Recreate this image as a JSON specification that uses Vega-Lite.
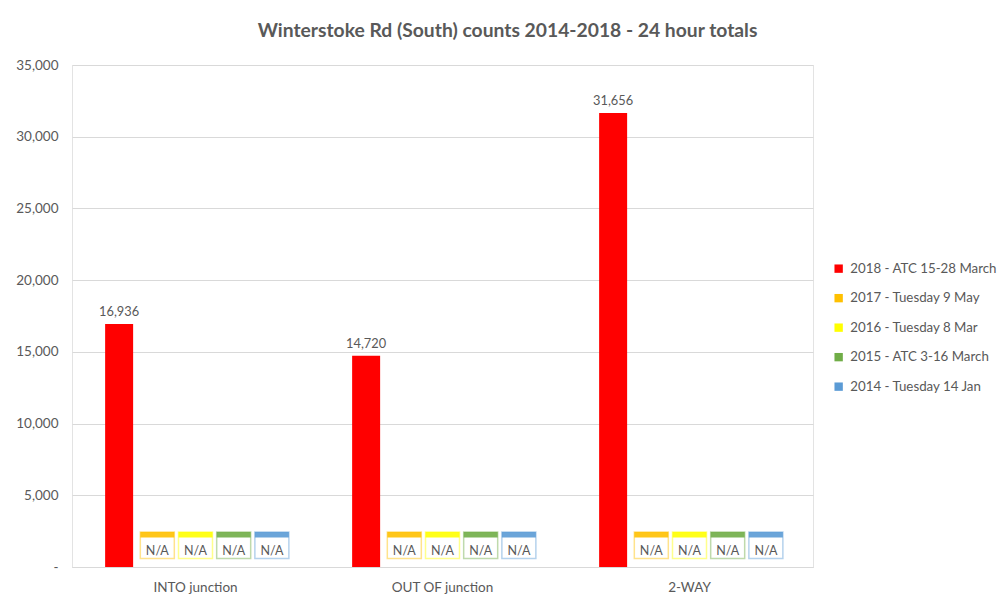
{
  "$schema": "https://vega.github.io/schema/vega-lite/v6.json",
  "width": 741,
  "height": 502,
  "autosize": {"type": "none"},
  "padding": {"left": 72, "top": 65, "right": 191, "bottom": 41},
  "background": "white",
  "title": {
    "text": "Winterstoke Rd (South) counts 2014-2018 - 24 hour totals",
    "font": "Lato",
    "fontSize": 19.3,
    "fontWeight": "bold",
    "color": "#595959",
    "anchor": "middle",
    "dx": 65,
    "offset": 17
  },
  "config": {
    "font": "Lato",
    "view": {"stroke": "#e3e3e3"},
    "axis": {"labelFont": "Lato", "labelColor": "#595959", "labelFontSize": 13.5}
  },
  "data": {
    "values": [
      {"junction": "INTO junction", "series": "2018 - ATC 15-28 March", "count": 16936},
      {"junction": "INTO junction", "series": "2017 - Tuesday 9 May", "count": null},
      {"junction": "INTO junction", "series": "2016 - Tuesday 8 Mar", "count": null},
      {"junction": "INTO junction", "series": "2015 - ATC 3-16 March", "count": null},
      {"junction": "INTO junction", "series": "2014 - Tuesday 14 Jan", "count": null},
      {"junction": "OUT OF junction", "series": "2018 - ATC 15-28 March", "count": 14720},
      {"junction": "OUT OF junction", "series": "2017 - Tuesday 9 May", "count": null},
      {"junction": "OUT OF junction", "series": "2016 - Tuesday 8 Mar", "count": null},
      {"junction": "OUT OF junction", "series": "2015 - ATC 3-16 March", "count": null},
      {"junction": "OUT OF junction", "series": "2014 - Tuesday 14 Jan", "count": null},
      {"junction": "2-WAY", "series": "2018 - ATC 15-28 March", "count": 31656},
      {"junction": "2-WAY", "series": "2017 - Tuesday 9 May", "count": null},
      {"junction": "2-WAY", "series": "2016 - Tuesday 8 Mar", "count": null},
      {"junction": "2-WAY", "series": "2015 - ATC 3-16 March", "count": null},
      {"junction": "2-WAY", "series": "2014 - Tuesday 14 Jan", "count": null}
    ]
  },
  "encoding": {
    "x": {
      "field": "junction",
      "type": "nominal",
      "sort": ["INTO junction", "OUT OF junction", "2-WAY"],
      "scale": {"paddingInner": 0.227, "paddingOuter": 0.1135},
      "axis": {"title": null, "labelAngle": 0, "ticks": false, "domainColor": "#d9d9d9", "labelPadding": 13}
    },
    "xOffset": {
      "field": "series",
      "type": "nominal",
      "sort": ["2018 - ATC 15-28 March", "2017 - Tuesday 9 May", "2016 - Tuesday 8 Mar", "2015 - ATC 3-16 March", "2014 - Tuesday 14 Jan"],
      "scale": {"paddingInner": 0, "paddingOuter": 0}
    }
  },
  "layer": [
    {
      "transform": [{"filter": "isValid(datum.count)"}],
      "mark": {"type": "bar", "width": 28},
      "encoding": {
        "y": {
          "field": "count",
          "type": "quantitative",
          "scale": {"domain": [0, 35000]},
          "axis": {
            "title": null,
            "values": [0, 5000, 10000, 15000, 20000, 25000, 30000, 35000],
            "labelExpr": "datum.value == 0 ? '-' : format(datum.value, ',')",
            "gridColor": "#d9d9d9",
            "domain": false,
            "ticks": false,
            "labelPadding": 14
          }
        },
        "color": {
          "field": "series",
          "type": "nominal",
          "scale": {
            "domain": ["2018 - ATC 15-28 March", "2017 - Tuesday 9 May", "2016 - Tuesday 8 Mar", "2015 - ATC 3-16 March", "2014 - Tuesday 14 Jan"],
            "range": ["#ff0000", "#ffc000", "#ffff00", "#70ad47", "#5b9bd5"]
          },
          "legend": {
            "title": null,
            "orient": "none",
            "legendX": 760,
            "legendY": 197,
            "symbolType": "square",
            "symbolSize": 70,
            "symbolStrokeWidth": 0,
            "labelFontSize": 13.3,
            "labelColor": "#595959",
            "labelFont": "Lato",
            "rowPadding": 15.5,
            "labelOffset": 5
          }
        }
      }
    },
    {
      "transform": [{"filter": "isValid(datum.count)"}],
      "mark": {"type": "text", "dy": -12, "fontSize": 12.8, "color": "#595959"},
      "encoding": {
        "y": {"field": "count", "type": "quantitative"},
        "text": {"field": "count", "type": "quantitative", "format": ","}
      }
    },
    {
      "transform": [{"filter": "!isValid(datum.count)"}],
      "mark": {"type": "bar", "filled": false, "fill": "white", "strokeWidth": 1.5, "strokeOpacity": 0.45, "width": 34},
      "encoding": {
        "y": {"datum": 2440, "type": "quantitative"},
        "y2": {"datum": 600},
        "color": {"field": "series", "type": "nominal", "legend": null}
      }
    },
    {
      "transform": [{"filter": "!isValid(datum.count)"}],
      "mark": {"type": "bar", "width": 34, "opacity": 0.9},
      "encoding": {
        "y": {"datum": 2440, "type": "quantitative"},
        "y2": {"datum": 2060},
        "color": {"field": "series", "type": "nominal", "legend": null}
      }
    },
    {
      "transform": [{"filter": "!isValid(datum.count)"}],
      "mark": {"type": "text", "fontSize": 12.5, "color": "#595959"},
      "encoding": {
        "y": {"datum": 1100, "type": "quantitative"},
        "text": {"value": "N/A"}
      }
    }
  ]
}
